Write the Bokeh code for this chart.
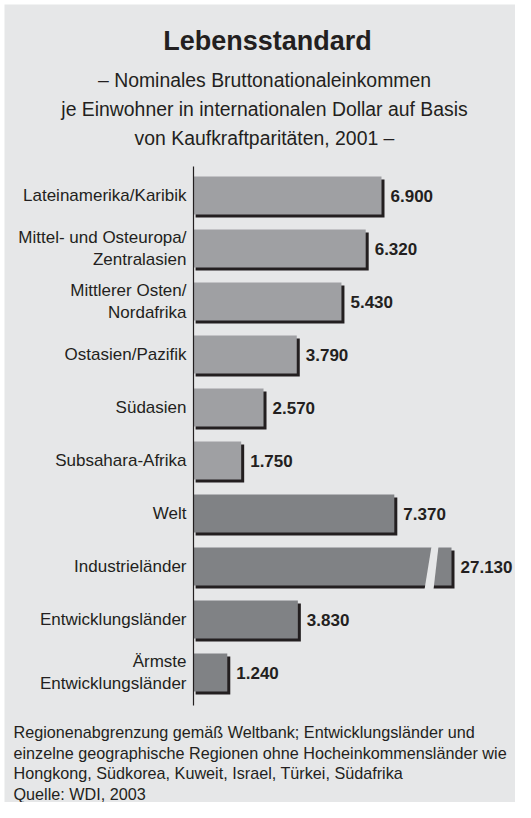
from bokeh.plotting import figure
from bokeh.models import ColumnDataSource, Label
from bokeh.core.properties import value
from bokeh.embed import file_html
from bokeh.resources import INLINE

# ---------------- data ----------------
categories = [
    "Lateinamerika/Karibik",
    "Mittel- und Osteuropa/\nZentralasien",
    "Mittlerer Osten/\nNordafrika",
    "Ostasien/Pazifik",
    "Südasien",
    "Subsahara-Afrika",
    "Welt",
    "Industrieländer",
    "Entwicklungsländer",
    "Ärmste\nEntwicklungsländer",
]
gni_ppp = [6900, 6320, 5430, 3790, 2570, 1750, 7370, 27130, 3830, 1240]
groups = ["Region"] * 6 + ["Aggregat"] * 4

title = "Lebensstandard"
subtitle = [
    "– Nominales Bruttonationaleinkommen",
    "je Einwohner in internationalen Dollar auf Basis",
    "von Kaufkraftparitäten, 2001 –",
]
footnote = [
    "Regionenabgrenzung gemäß Weltbank; Entwicklungsländer und",
    "einzelne geographische Regionen ohne Hocheinkommensländer wie",
    "Hongkong, Südkorea, Kuweit, Israel, Türkei, Südafrika",
    "Quelle: WDI, 2003",
]

# ---------------- styling / layout ----------------
BG = "#e6e7e8"
LIGHT = "#9fa0a3"
DARK = "#808285"
INK = "#231f20"
FONT = "Liberation Sans"

W, H = 515, 802
PAD = 4                   # thin white frame round the grey panel
K = 188 / 6900.0          # pixels per dollar
ROW = 53.0                # pixels per category row
AXIS_X = 193              # pixel x of value 0
TOP_ROW_Y = 195           # pixel y of the first row centre

n = len(categories)


def px(x_pix):
    return (x_pix - AXIS_X) / K


def py(y_pix):
    return (n - 1) - (y_pix - TOP_ROW_Y) / ROW


X0, X1 = px(PAD), px(W)
Y0, Y1 = py(H), py(PAD)

BREAK_CAP = px(451)       # drawn length of bars beyond the axis break
BREAK_AT = px(431)        # position of the break gap

BAR_H = 38 / ROW
DX = 3 / K
DY = 3 / ROW

ys = [n - 1 - i for i in range(n)]
disp = [min(v, BREAK_CAP) for v in gni_ppp]
colors = [LIGHT if g == "Region" else DARK for g in groups]
labels = [f"{v:,}".replace(",", ".") for v in gni_ppp]

src = ColumnDataSource(dict(
    y=ys,
    ys=[y - DY for y in ys],
    disp=disp,
    disp_s=[d + DX for d in disp],
    color=colors,
    cat=categories,
    lab=labels,
    lab_x=[d + 9 / K for d in disp],
))

p = figure(width=W, height=H, x_range=(X0, X1), y_range=(Y0, Y1),
           output_backend="svg", toolbar_location=None,
           x_axis_type=None, y_axis_type=None,
           min_border_left=PAD, min_border_top=PAD,
           min_border_right=0, min_border_bottom=0,
           background_fill_color=BG, border_fill_color="white",
           outline_line_color=None)
p.grid.visible = False

# shadows
p.hbar(y="ys", left=DX * 0.7, right="disp_s", height=BAR_H, source=src,
       fill_color=INK, line_color=None)
# bars
p.hbar(y="y", left=0, right="disp", height=BAR_H, source=src,
       fill_color="color", line_color=None)

# axis break gaps
for y, v in zip(ys, gni_ppp):
    if v > BREAK_CAP:
        top = y + BAR_H / 2 + 0.02
        bot = y - BAR_H / 2 - DY - 0.02
        p.patch(x=[BREAK_AT, BREAK_AT + 7 / K, BREAK_AT + 2 / K, BREAK_AT - 7 / K],
                y=[top, top, bot, bot], fill_color=BG, line_color=None)

# axis line
p.segment(x0=0, x1=0, y0=py(166), y1=py(705), line_color=INK, line_width=1.2)

# category labels
p.text(x=px(186), y="y", text="cat", source=src, text_align="right",
       text_baseline="middle", text_font=value(FONT), text_font_size="17px",
       text_color=INK, text_line_height=1.12)
# value labels
p.text(x="lab_x", y="y", text="lab", source=src, text_align="left",
       text_baseline="middle", text_font=value(FONT), text_font_size="17px",
       text_font_style="bold", text_color=INK)

# title block (y = vertical centre of the capitals)
p.add_layout(Label(x=px(267), y=py(40), text=title, text_align="center",
                   text_baseline="middle", text_font=FONT,
                   text_font_size="27px", text_font_style="bold",
                   text_color=INK))
for i, line in enumerate(subtitle):
    p.add_layout(Label(x=px(264), y=py(79 + 29.2 * i), text=line,
                       text_align="center", text_baseline="middle",
                       text_font=FONT, text_font_size="19.4px",
                       text_color=INK))

# footnote
for i, line in enumerate(footnote):
    p.add_layout(Label(x=px(13), y=py(731.5 + 20.5 * i), text=line,
                       text_align="left", text_baseline="middle",
                       text_font=FONT, text_font_size="16.2px",
                       text_color=INK))

open("out.html", "w").write(file_html(p, INLINE))
